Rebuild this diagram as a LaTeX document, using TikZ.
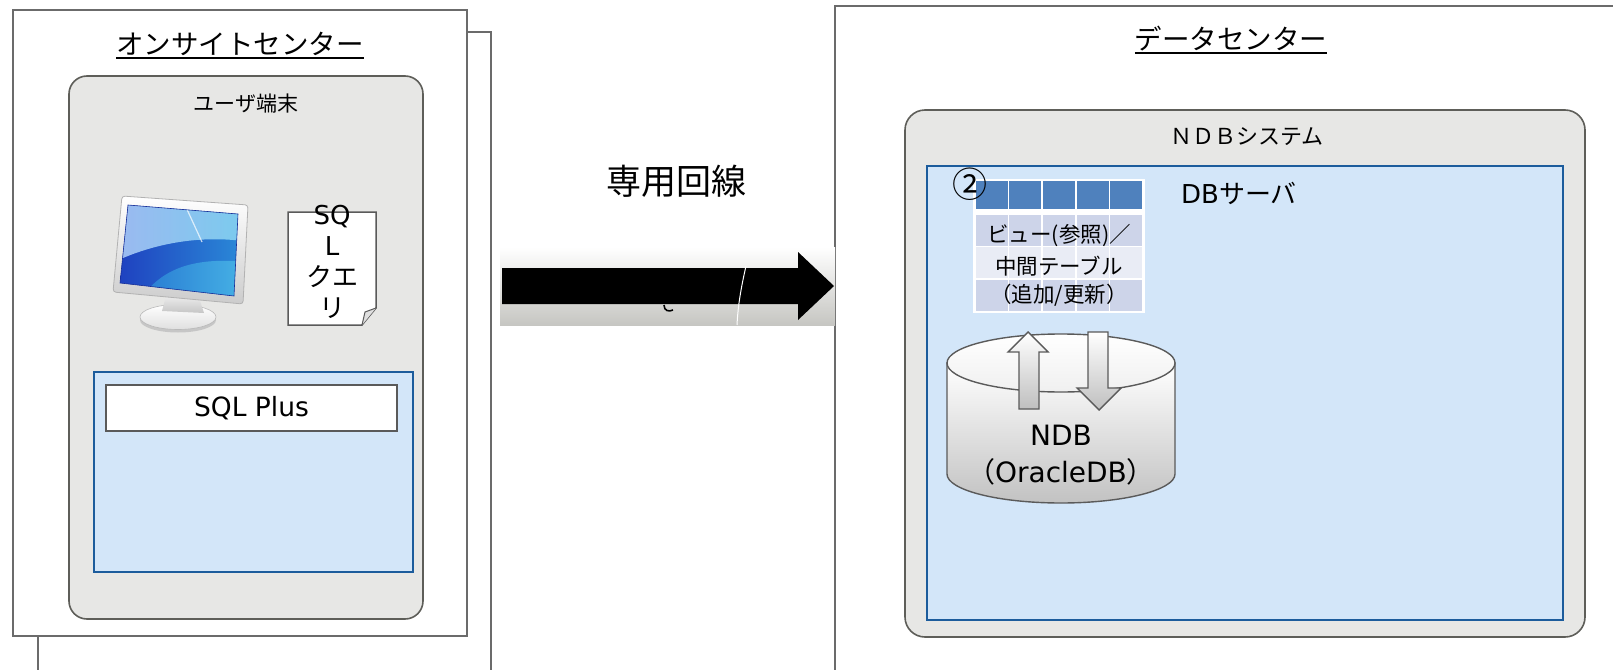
\documentclass[tikz,border=0pt]{standalone}
\usepackage{fontspec}
\setmainfont{Noto Sans CJK JP}
\newfontfamily\lat{DejaVu Sans}
\usetikzlibrary{calc}

\definecolor{framegray}{HTML}{6B6B6B}
\definecolor{panelline}{HTML}{5E5E59}
\definecolor{panelfill}{HTML}{E7E7E5}
\definecolor{hostline}{HTML}{1C5C9C}
\definecolor{hostfill}{HTML}{D3E6F9}
\definecolor{boxline}{HTML}{5A5A5A}
\definecolor{tblhead}{HTML}{4F81BD}
\definecolor{tbldark}{HTML}{CDD4E9}
\definecolor{tbllight}{HTML}{E9ECF5}
\definecolor{scrdark}{HTML}{1E3CBE}
\definecolor{scrmid}{HTML}{2B8ED9}
\definecolor{scrhigh}{HTML}{B4CFFA}
\definecolor{scrglow}{HTML}{55C6EC}
\definecolor{bandgray}{HTML}{C6C6C2}
\definecolor{cylgray}{HTML}{C2C2C2}

\newcommand\fsz[1]{\fontsize{#1}{#1}\selectfont}

\begin{document}
\begin{tikzpicture}[x=1pt,y=-1pt,
  frame/.style={draw=framegray,line width=1.3pt},
  box/.style={anchor=north west,inner sep=0pt,outer sep=0pt},
  panel/.style={box,draw=panelline,fill=panelfill,line width=1.6pt,rounded corners=18pt},
  host/.style={box,draw=hostline,fill=hostfill,line width=2.6pt},
  lbl/.style={inner sep=0pt,outer sep=0pt,text=black},
  blockarrow/.style={draw=boxline,line width=1.4pt,top color=white,bottom color=gray!50},
]
\useasboundingbox (0,0) rectangle (1613,669);
\clip (0,0) rectangle (1613,669);
\fill[white] (0,0) rectangle (1613,669);

% ---------- on-site center ----------
\draw[frame] (467,32) -- (491,32) -- (491,690);
\draw[frame] (38,636) -- (38,690);
\node[box,frame,fill=white,minimum width=454pt,minimum height=626pt] (onsite) at (13,10) {};
\node[lbl,anchor=base,font=\fsz{27.5}] (onsitetitle) at (240,55) {オンサイトセンター};
\draw[line width=1.2pt] ([yshift=-3pt]onsitetitle.base west) -- ([yshift=-3pt]onsitetitle.base east);

\node[panel,minimum width=354pt,minimum height=543pt] (terminal) at (69,76) {};
\node[lbl,font=\fsz{21}] (termlabel) at (246,104) {ユーザ端末};

% monitor: stand, bezel, screen
\fill[gray!45] (178,320) ellipse [x radius=38pt,y radius=12.5pt];
\shade[top color=white,bottom color=gray!25,draw=gray!55,line width=0.6pt] (178,317) ellipse [x radius=38pt,y radius=12.5pt];
\shade[top color=gray!15,bottom color=gray!45] (166,296) -- (199,298) -- (204,313) -- (162,311) -- cycle;
\shade[top color=white,bottom color=gray!40,draw=gray!60,line width=0.8pt,rounded corners=3pt]
  (122,196) -- (248,205) -- (243,304) -- (113,292) -- cycle;
\begin{scope}
  \clip (128,205) -- (238,214) -- (234,296) -- (120,283) -- cycle;
  \shade[left color=scrdark,right color=scrmid] (110,195) rectangle (250,300);
  \shade[left color=scrhigh,right color=scrglow!70,opacity=0.85]
    (110,195) -- (250,195) -- (250,242) .. controls (200,234) and (150,244) .. (110,264) -- cycle;
  \shade[left color=scrmid,right color=scrglow,opacity=0.7]
    (140,300) .. controls (165,262) and (205,258) .. (250,262) -- (250,300) -- cycle;
  \draw[white,opacity=0.7,line width=1.2pt] (185,205) -- (202,242);
\end{scope}
\draw[scrdark!80!black,line width=0.6pt] (128,205) -- (238,214) -- (234,296) -- (120,283) -- cycle;
\coordinate (monitor) at (180,260);

% SQL query sheet with folded corner
\draw[draw=boxline,fill=white,line width=1.5pt] (288,212) -- (376,212) -- (376,308) -- (362,325) -- (288,325) -- cycle;
\draw[draw=boxline,fill=gray!25,line width=1pt] (362,325) -- (365,312) -- (376,308);
\node[lbl,align=center,font=\fontsize{26}{31}\selectfont] (query) at (332,262)
  {{\lat SQ}\\{\lat L}\\クエ\\リ};

% client host with SQL Plus
\node[host,minimum width=319pt,minimum height=200pt] (client) at (94,372) {};
\node[box,draw=boxline,fill=white,line width=1.6pt,minimum width=291pt,minimum height=46pt] (sqlplus) at (106,385) {};
\node[lbl,font={\lat\fsz{26.5}}] at (sqlplus.center) {SQL Plus};

% ---------- data center ----------
\node[box,frame,fill=white,minimum width=820pt,minimum height=700pt] (dc) at (835,6) {};
\node[lbl,anchor=base,font=\fsz{27.5}] (dctitle) at (1231,50) {データセンター};
\draw[line width=1.2pt] ([yshift=-3pt]dctitle.base west) -- ([yshift=-3pt]dctitle.base east);

\node[panel,rounded corners=20pt,minimum width=680pt,minimum height=527pt] (ndbsys) at (905,110) {};
\node[lbl,font=\fsz{22}] at (1247,137) {ＮＤＢシステム};
\node[host,minimum width=636pt,minimum height=454pt] (dbserver) at (927,166) {};
\node[lbl,font=\fsz{26}] at (1239,193) {{\lat DB}サーバ};

% table of views / work tables
\fill[white] (973,179) rectangle (1145,313);
\foreach \i in {0,...,4} {
  \pgfmathsetmacro\xa{975+\i*33.6}
  \pgfmathsetmacro\xb{\xa+33.6}
  \fill[tblhead] (\xa+0.8,181) rectangle (\xb-0.8,209);
  \fill[tbldark] (\xa+0.8,215) rectangle (\xb-0.8,245.5);
  \fill[tbllight] (\xa+0.8,247) rectangle (\xb-0.8,278);
  \fill[tbldark] (\xa+0.8,279.5) rectangle (\xb-0.8,311);
}
\coordinate (tbl) at (1059,246);
\node[lbl,font=\fsz{21.5}] (row1) at (1059,236) {ビュー(参照)／};
\node[lbl,font=\fsz{21.5}] (row2) at (1059,266) {中間テーブル};
\node[lbl,font=\fsz{21.5}] (row3) at (1059,295) {（追加/更新）};
\node[lbl,font=\fsz{35}] (mark) at (970,184) {②};

% NDB cylinder
\shade[top color=white,bottom color=cylgray,draw=boxline,line width=1.4pt]
  (947,363) -- (947,474) arc[start angle=180,end angle=360,x radius=114pt,y radius=29pt] -- (1175,363) -- cycle;
\shade[top color=white,bottom color=gray!12,draw=boxline,line width=1.4pt]
  (1061,363) ellipse [x radius=114pt,y radius=29pt];
\coordinate (ndb) at (1061,430);

% read / write arrows between table and database
\draw[blockarrow] (1028,332) -- (1048,352) -- (1039,352) -- (1039,409) -- (1019,409) -- (1019,352) -- (1008,352) -- cycle;
\draw[blockarrow] (1088,332) -- (1108,332) -- (1108,388) -- (1121,388) -- (1099,410) -- (1077,388) -- (1088,388) -- cycle;

\node[lbl,font={\lat\fsz{28}}] at (1061,435) {NDB};
\node[lbl,font=\fsz{28}] at (1061,472) {（{\lat OracleDB}）};

% ---------- leased line ----------
\shade[top color=white,bottom color=bandgray] (500,247) rectangle (835,325);
\coordinate (linkstart) at (502,286);
\coordinate (linkend) at (834,286);
\fill[black] (linkstart) ++(0,-18) -- (798,268) -- (798,252) -- (linkend) -- (798,320) -- (798,304) -- ($(linkstart)+(0,18)$) -- cycle;
\draw[white,line width=1pt] (746,266) .. controls (741,288) and (738,305) .. (737,325);
\draw[black,line width=1.6pt] (664,305) .. controls (664,311) and (669,312) .. (673,310);
\node[lbl,font=\fsz{35}] (linelabel) at (676,181) {専用回線};

\end{tikzpicture}
\end{document}
